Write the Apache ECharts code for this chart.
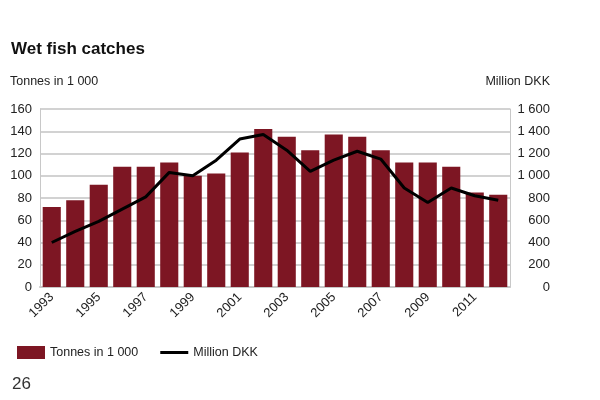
<!DOCTYPE html>
<html><head><meta charset="utf-8">
<script src="https://cdn.jsdelivr.net/npm/echarts@6/dist/echarts.min.js"></script>
<style>html,body{margin:0;padding:0;background:#fff}#c{width:600px;height:400px}</style>
</head><body><div id="c"></div>
<script>
var years = ['1993','1994','1995','1996','1997','1998','1999','2000','2001','2002','2003','2004','2005','2006','2007','2008','2009','2010','2011','2012'];
var tonnes = [72,78,92,108,108,112,100,102,121,142,135,123,137,135,123,112,112,108,85,83];
var millionDKK = [400,500,590,700,810,1030,1000,1140,1330,1370,1230,1040,1140,1220,1150,890,760,890,820,780];
var leftTicks = [0,20,40,60,80,100,120,140,160];
var rightTicks = [0,200,400,600,800,1000,1200,1400,1600];

var F = '"Liberation Sans Narrow","Arial Narrow","Liberation Sans",sans-serif';
var chart = echarts.init(document.getElementById('c'));
function sp(v){ return String(v).replace(/\B(?=(\d{3})+(?!\d))/g,' '); }
chart.setOption({
  animation:false,
  backgroundColor:'#fff',
  textStyle:{fontFamily:F},
  title:{text:'Wet fish catches',left:6,top:36,textStyle:{fontFamily:F,fontWeight:'bold',fontSize:17,color:'#111'}},
  graphic:[
    {type:'text',left:10,top:75,style:{text:'Tonnes in 1 000',font:'12.5px '+F,fill:'#222'}},
    {type:'text',right:50,top:75,style:{text:'Million DKK',font:'12.5px '+F,fill:'#222'}},
    {type:'text',left:12,top:376,style:{text:'26',font:'17px '+F,fill:'#333'}}
  ],
  legend:{left:12,top:341,itemWidth:28,itemHeight:13,itemGap:22,
    textStyle:{fontFamily:F,fontSize:12.5,color:'#222'},
    data:[{name:'Tonnes in 1 000',icon:'rect'},{name:'Million DKK',icon:'path://M0,0h28v3h-28z'}]},
  grid:{left:40,right:90,top:109,bottom:113},
  xAxis:{type:'category',data:years,
    axisLine:{show:true,lineStyle:{color:'#c8c8c8',width:2}},
    axisTick:{show:false},
    axisLabel:{interval:1,rotate:45,fontFamily:F,fontSize:13,color:'#222',margin:8}},
  yAxis:[
    {type:'value',min:0,max:160,interval:20,
      axisLine:{show:true,lineStyle:{color:'#c8c8c8',width:1}},axisTick:{show:false},
      splitLine:{lineStyle:{color:'#d2d2d2',width:2}},
      axisLabel:{fontFamily:F,fontSize:13,color:'#222',margin:8}},
    {type:'value',min:0,max:1600,interval:200,
      axisLine:{show:true,lineStyle:{color:'#c8c8c8',width:1}},axisTick:{show:false},
      splitLine:{show:false},
      axisLabel:{fontFamily:F,fontSize:13,color:'#222',margin:40,align:'right',formatter:function(v){return sp(v);}}}
  ],
  series:[
    {name:'Tonnes in 1 000',type:'bar',data:tonnes,barCategoryGap:'23%',itemStyle:{color:'#7d1623'}},
    {name:'Million DKK',type:'line',yAxisIndex:1,data:millionDKK,symbol:'none',lineStyle:{color:'#000',width:3},itemStyle:{color:'#000'}}
  ]
});
</script></body></html>
